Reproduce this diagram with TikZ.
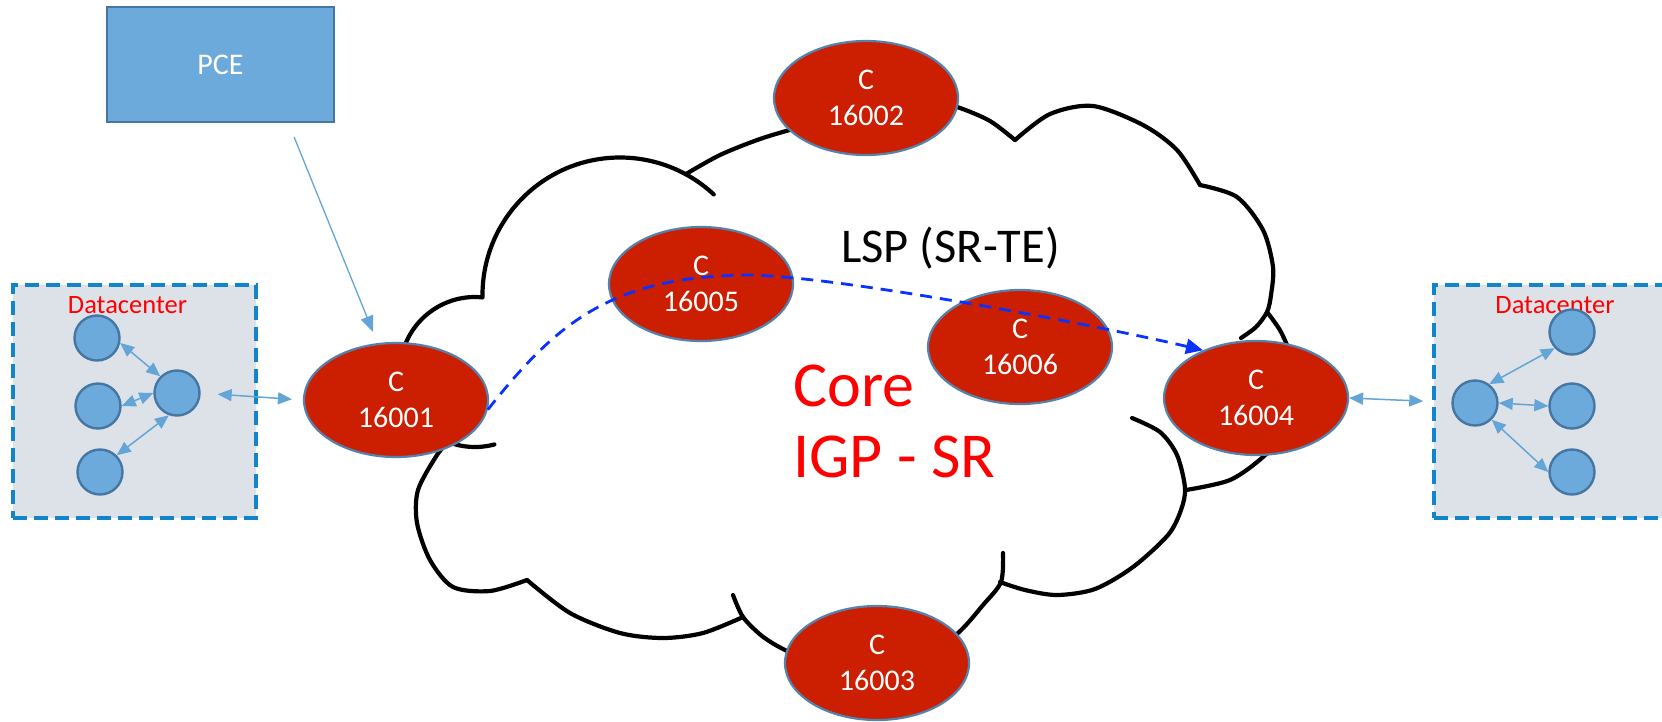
\documentclass[tikz,border=0pt]{standalone}
\usepackage{fontspec}
\setmainfont{Carlito}
\usetikzlibrary{shapes.geometric,arrows.meta}

\definecolor{routerred}{RGB}{204,30,0}
\definecolor{routeredge}{RGB}{84,130,172}
\definecolor{paleblue}{RGB}{108,170,219}
\definecolor{paleedge}{RGB}{70,118,162}
\definecolor{linkblue}{RGB}{100,165,215}
\definecolor{dcfill}{RGB}{221,226,233}
\definecolor{dcedge}{RGB}{18,132,202}
\definecolor{lspblue}{RGB}{10,50,255}
\definecolor{labelred}{RGB}{255,0,0}

\tikzset{
  router/.style={ellipse, draw=routeredge, line width=2.2pt, fill=routerred,
    minimum width=184pt, minimum height=114pt, inner sep=0pt, text=white,
    align=center, font=\fontsize{30}{36.6}\selectfont},
  hostnode/.style={circle, draw=paleedge, line width=2.4pt, fill=paleblue,
    minimum size=45pt, inner sep=0pt},
  dcbox/.style={draw=dcedge, fill=dcfill, line width=3.5pt,
    dash pattern=on 14pt off 7pt, minimum width=243pt, minimum height=233pt, inner sep=0pt},
  dclabel/.style={text=labelred, font=\fontsize{26.5}{30}\selectfont, inner sep=0pt, anchor=base},
  pcebox/.style={draw=paleedge, fill=paleblue, line width=2.2pt, minimum width=227pt,
    minimum height=115pt, inner sep=0pt, text=white, font=\fontsize{30}{36}\selectfont},
  cloudline/.style={draw=black, line width=4.2pt, line cap=round, line join=round},
  linkarrow/.style={draw=linkblue, line width=1.5pt,
    arrows={{Triangle[length=14pt,width=12pt]}-{Triangle[length=14pt,width=12pt]}}},
  pcearrow/.style={draw=linkblue, line width=1.3pt,
    arrows={-{Triangle[length=16pt,width=13pt]}}},
  lsppath/.style={draw=lspblue, line width=2.8pt, dash pattern=on 12pt off 8pt,
    arrows={-{Triangle[length=17pt,width=15pt]}}},
  bigred/.style={text=labelred, font=\fontsize{64}{70}\selectfont, inner sep=0pt, anchor=base west}
}

\begin{document}
\begin{tikzpicture}[x=1pt, y=-1pt]
\useasboundingbox (0,0) rectangle (1662,721);

% ---- core cloud outline, one lobe at a time ----
\draw[cloudline] (475,372) ++(-85:75) arc[start angle=-85, end angle=-285, radius=75];
\draw[cloudline] (620,295) ++(179:137.5) arc[start angle=179, end angle=313, radius=137.5];
\draw[cloudline] plot[smooth] coordinates {(686,174) (720,155) (760,139) (800,127) (850,113) (900,105) (940,104) (960,108) (990,121) (1015,140)};
\draw[cloudline] plot[smooth] coordinates {(1015,140) (1050,114) (1093,106) (1143,125) (1177,150) (1200,185)};
\draw[cloudline] plot[smooth] coordinates {(1200,185) (1237,197) (1263,230) (1273,267) (1271,295) (1267,312) (1256,327) (1241,338)};
\draw[cloudline] plot[smooth] coordinates {(1267,312) (1281,332) (1292,360) (1296,395) (1287,430) (1263,457) (1230,480) (1186,490)};
\draw[cloudline] plot[smooth] coordinates {(1132,418) (1160,432) (1177,455) (1185,488) (1181,510) (1168,535) (1133,567) (1095,589) (1057,595) (1025,590) (1000,582)};
\draw[cloudline] plot[smooth] coordinates {(1003,553) (1001,582) (983,605) (958,633) (920,660) (870,672) (820,664) (785,650) (762,636) (743,617) (733,595)};
\draw[cloudline] plot[smooth] coordinates {(743,617) (703,633) (663,638) (620,633) (570,613) (527,580)};
\draw[cloudline] plot[smooth] coordinates {(527,580) (490,591) (453,587) (430,560) (417,523) (418,490) (437,455) (450,440)};

% ---- PCE controller ----
\node[pcebox] (pce) at (220.5,64.5) {PCE};

% ---- datacenters ----
\node[dcbox] (ldc) at (134.5,401.5) {};
\node[dclabel] (ldclabel) at (127.5,313) {Datacenter};
\node[hostnode] (l1) at (97,338) {};
\node[hostnode] (l2) at (98,406) {};
\node[hostnode] (l3) at (100,472) {};
\node[hostnode] (lh) at (177,393) {};

\node[dcbox, minimum width=232pt] (rdc) at (1550,401.5) {};
\node[dclabel] (rdclabel) at (1555,313) {Datacenter};
\node[hostnode] (rh) at (1475,403) {};
\node[hostnode] (r1) at (1572,332) {};
\node[hostnode] (r2) at (1572,406) {};
\node[hostnode] (r3) at (1572,472) {};

\draw[linkarrow] (l1.-12) -- (lh.135);
\draw[linkarrow] (l2.0) -- (lh.180);
\draw[linkarrow] (l3.45) -- (lh.250);
\draw[linkarrow] (rh.53) -- (r1.223);
\draw[linkarrow] (rh.0) -- (r2.180);
\draw[linkarrow] (rh.-45) -- (r3.180);

% ---- core routers ----
\node[router] (c16001) at (396,400) {C\\16001};
\node[router] (c16002) at (866,98) {C\\16002};
\node[router] (c16003) at (877,663) {C\\16003};
\node[router] (c16004) at (1256,398) {C\\16004};
\node[router] (c16005) at (701,284) {C\\16005};
\node[router] (c16006) at (1020,347) {C\\16006};

% ---- access links and PCE session ----
\draw[linkarrow, shorten <=17pt, shorten >=11pt] (lh.east) -- (c16001.west);
\draw[linkarrow, shorten >=9pt] (c16004.east) -- (rdc.west);
\draw[pcearrow, shorten <=15pt, shorten >=12pt] ([xshift=68pt]pce.south) -- (c16001.108);

% ---- SR-TE label switched path ----
\coordinate (lsptop) at (752,275);
\draw[lsppath] (c16001.-6) .. controls (555,325) and (610,275) .. (lsptop)
  .. controls (850,278) and (1100,326) .. (c16004.138);
\node[font=\fontsize{48.5}{52}\selectfont, inner sep=0pt, anchor=base] (lsplabel) at (950.5,262) {LSP (SR-TE)};

% ---- core label ----
\node[bigred] (corelabel) at (793,406) {Core};
\node[bigred] (igplabel) at (793,477) {IGP - SR};
\end{tikzpicture}
\end{document}
